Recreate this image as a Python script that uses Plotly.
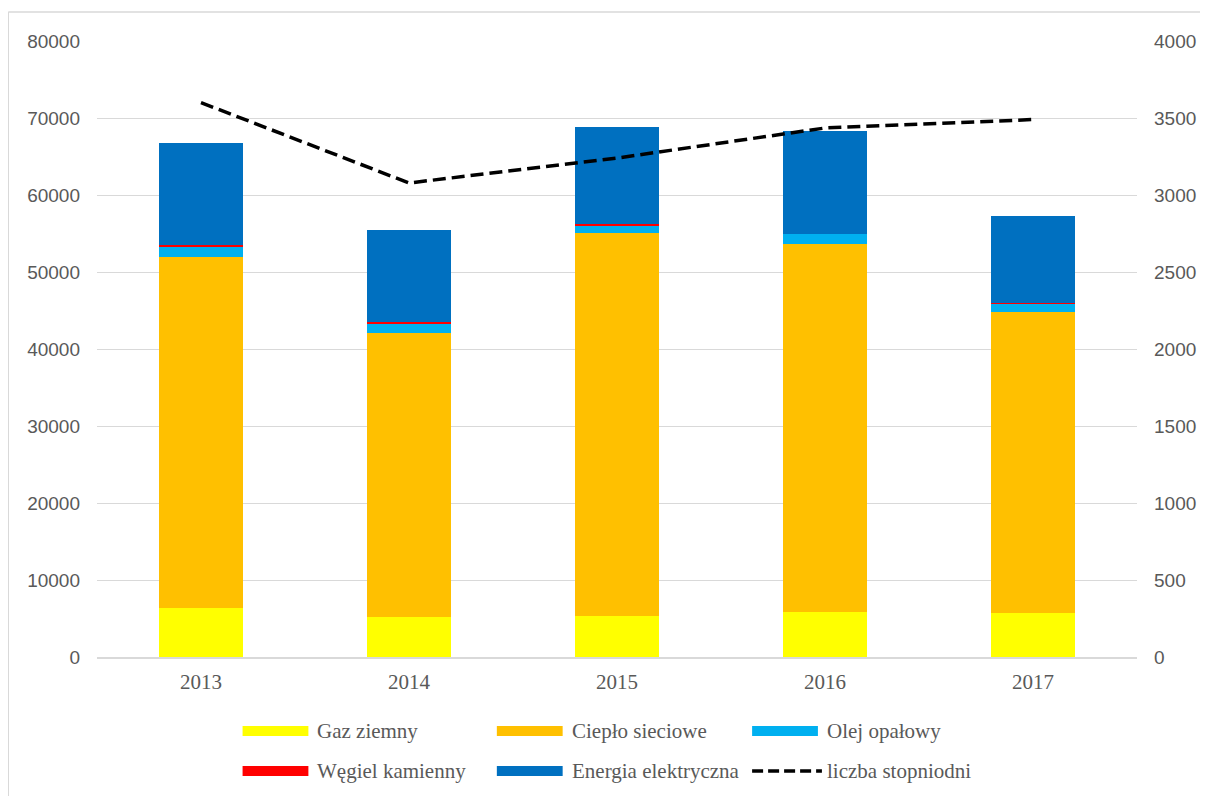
import plotly.graph_objects as go

years = ["2013", "2014", "2015", "2016", "2017"]
gaz_ziemny = [6400, 5200, 5300, 5900, 5700]
cieplo_sieciowe = [45550, 36880, 49750, 47740, 39100]
olej_opalowy = [1300, 1170, 1050, 1300, 1170]
wegiel_kamienny = [250, 250, 150, 30, 20]
energia_elektryczna = [13250, 11950, 12580, 13360, 11300]
liczba_stopniodni = [3600, 3078, 3240, 3435, 3490]

bar_names = ["Gaz ziemny", "Ciepło sieciowe", "Olej opałowy", "Węgiel kamienny", "Energia elektryczna"]
bar_values = [gaz_ziemny, cieplo_sieciowe, olej_opalowy, wegiel_kamienny, energia_elektryczna]
bar_colors = ["#FFFF00", "#FFC000", "#00B0F0", "#FF0000", "#0070C0"]
line_name = "liczba stopniodni"

left_ticks = list(range(0, 80001, 10000))
right_ticks = list(range(0, 4001, 500))

fig = go.Figure()
for name, vals, col in zip(bar_names, bar_values, bar_colors):
    fig.add_trace(go.Bar(x=years, y=vals, name=name, marker=dict(color=col, line=dict(width=0)),
                         showlegend=False))
fig.add_trace(go.Scatter(x=years, y=liczba_stopniodni, name=line_name, yaxis="y2", mode="lines",
                         line=dict(color="black", width=3.5, dash="13px,6px"), showlegend=False))

# page offset (body margin) and plot area geometry in page pixels
OFF = 8
FW, FH = 1208 - OFF, 796 - OFF
L, R, T, B = 97, 1140, 41, 657
W, H = R - L, B - T
def px(x):
    return (x - L) / W
def py(y):
    return (B - y) / H

shapes = []
annotations = []
# manual legend
legend_items = [(n, c, "bar") for n, c in zip(bar_names, bar_colors)] + [(line_name, "black", "line")]
col_x = [243, 498, 754]
row_y = [731, 771]
for i, (name, col, kind) in enumerate(legend_items):
    cx = col_x[i % 3]
    ry = row_y[i // 3]
    if kind == "bar":
        shapes.append(dict(type="rect", xref="paper", yref="paper", x0=px(cx), x1=px(cx + 66),
                           y0=py(ry + 5), y1=py(ry - 5), fillcolor=col, line=dict(width=0)))
    else:
        shapes.append(dict(type="line", xref="paper", yref="paper", x0=px(cx), x1=px(cx + 70),
                           y0=py(ry), y1=py(ry), line=dict(color=col, width=3.5, dash="11px,5px")))
    annotations.append(dict(text=name, xref="paper", yref="paper", x=px(cx + 73), y=py(ry),
                            xanchor="left", yanchor="middle", showarrow=False,
                            font=dict(family="Liberation Serif", size=21, color="#595959")))

# outer frame
shapes.append(dict(type="line", xref="paper", yref="paper", x0=px(8), x1=px(8), y0=py(800), y1=py(12),
                   line=dict(color="#D9D9D9", width=1.5)))
shapes.append(dict(type="line", xref="paper", yref="paper", x0=px(8), x1=px(1215), y0=py(12), y1=py(12),
                   line=dict(color="#D9D9D9", width=1.5)))

fig.update_layout(
    width=FW, height=FH,
    margin=dict(l=L - OFF, r=1208 - R, t=T - OFF, b=796 - B),
    paper_bgcolor="white", plot_bgcolor="white",
    barmode="stack", bargap=0.6,
    showlegend=False,
    xaxis=dict(type="category", showgrid=False, showline=True, linecolor="#D9D9D9", linewidth=1.5,
               ticks="", tickfont=dict(family="Liberation Serif", size=21, color="#595959"),
               ticklabelstandoff=5),
    yaxis=dict(range=[0, 80000], tickvals=left_ticks, ticktext=[str(v) for v in left_ticks],
               showgrid=True, gridcolor="#D9D9D9", gridwidth=1, zeroline=False, showline=False,
               ticks="", tickfont=dict(family="Liberation Sans", size=19, color="#595959"),
               ticklabelstandoff=16),
    yaxis2=dict(range=[0, 4000], tickvals=right_ticks, ticktext=[str(v) for v in right_ticks],
                overlaying="y", side="right", showgrid=False, zeroline=False, showline=False,
                ticks="", tickfont=dict(family="Liberation Sans", size=19, color="#595959"),
                ticklabelstandoff=16),
    shapes=shapes, annotations=annotations,
)

fig.write_html("out.html")
